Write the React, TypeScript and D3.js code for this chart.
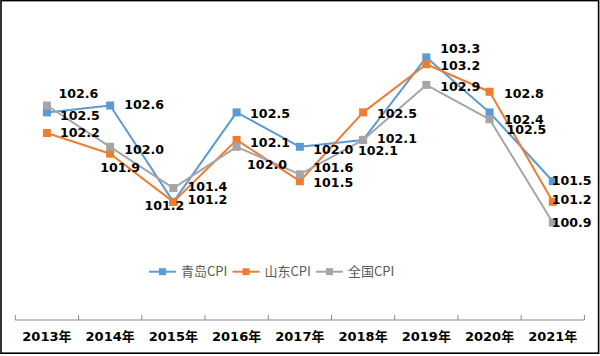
import React from "react";
import * as d3 from "d3";

const years = ["2013年", "2014年", "2015年", "2016年", "2017年", "2018年", "2019年", "2020年", "2021年"];
const seriesNames = ["青岛CPI", "山东CPI", "全国CPI"];
const qingdao = [102.5, 102.6, 101.2, 102.5, 102.0, 102.1, 103.3, 102.5, 101.5];
const shandong = [102.2, 101.9, 101.2, 102.1, 101.5, 102.5, 103.2, 102.8, 101.2];
const national = [102.6, 102.0, 101.4, 102.0, 101.6, 102.1, 102.9, 102.4, 100.9];

// label placement offsets (layout only): [dx of text left edge, dy of text middle]
const qingdaoLabelPos = [[13, 3], [14, -1], [14, -2], [13.5, 1], [13.5, 3], [14, -1.5], [14, -9], [17, 17], [-1, -1]];
const shandongLabelPos = [[13, -0.5], [-10, 13.5], [-29, 4], [13.5, 3], [13.5, 1.5], [14, 1], [14, 1.5], [14.5, 1.5], [-1, -2]];
const nationalLabelPos = [[11.5, -12.5], [14, 2.5], [14, -1.5], [10.5, 17.5], [13.5, -6.5], [-5, 11], [14, 2], [14.5, 0], [-1, -0.5]];

const colors = ["#5B9BD5", "#ED7D31", "#A5A5A5"];

export default function App() {
  const W = 600, H = 356;
  const x = d3.scaleBand<string>().domain(years).range([15.3, 584.4]).padding(0);
  const y = d3.scaleLinear().domain([99.5, 103.5]).range([318.8, 43.6]);
  const axisY = 320;
  const cx = (i: number) => (x(years[i]) as number) + x.bandwidth() / 2;

  const data = [qingdao, shandong, national];
  const labelPos = [qingdaoLabelPos, shandongLabelPos, nationalLabelPos];
  const line = d3.line<number>().x((_, i) => cx(i)).y((v) => y(v));

  const ticks = [...years.map((yr) => x(yr) as number), 584.4];
  const labelFont = "'DejaVu Sans', 'Noto Sans CJK SC', sans-serif";

  return (
    <svg width={W} height={H} style={{ position: "absolute", left: 0, top: 0, background: "#fff" }}>
      <rect x={0} y={0} width={W} height={H} fill="#fff" />
      <rect x={1} y={0.6} width={597.6} height={352.6} fill="none" stroke="#000" strokeWidth={1.6} />
      {/* axis */}
      <line x1={15.3} x2={584.4} y1={axisY} y2={axisY} stroke="#898989" strokeWidth={1} />
      {ticks.map((t, i) => (
        <line key={i} x1={t} x2={t} y1={axisY - 5} y2={axisY} stroke="#898989" strokeWidth={1} />
      ))}
      {years.map((yr, i) => (
        <text key={yr} x={cx(i)} y={340.5} textAnchor="middle" fontFamily={labelFont} fontWeight="bold" fontSize={13} fill="#000">
          {yr}
        </text>
      ))}
      {/* series */}
      {data.map((vals, s) => (
        <g key={s}>
          <path d={line(vals) || ""} fill="none" stroke={colors[s]} strokeWidth={2} strokeLinejoin="round" />
          {vals.map((v, i) => (
            <rect key={i} x={cx(i) - 4} y={y(v) - 4} width={8} height={8} fill={colors[s]} />
          ))}
        </g>
      ))}
      {/* data labels */}
      {data.map((vals, s) =>
        vals.map((v, i) => (
          <text
            key={`${s}-${i}`}
            x={cx(i) + labelPos[s][i][0]}
            y={y(v) + labelPos[s][i][1]}
            dy="0.36em"
            fontFamily={labelFont}
            fontWeight="bold"
            fontSize={12.6}
            fill="#000"
          >
            {v.toFixed(1)}
          </text>
        ))
      )}
      {/* legend */}
      {seriesNames.map((name, s) => {
        const x0 = 149 + s * 83.5;
        const ly = 271.7;
        return (
          <g key={name}>
            <line x1={x0} x2={x0 + 27} y1={ly} y2={ly} stroke={colors[s]} strokeWidth={2} />
            <rect x={x0 + 13.5 - 3.5} y={ly - 3.5} width={7} height={7} fill={colors[s]} />
            <text x={x0 + 32} y={ly} dy="0.36em" fontFamily="'Noto Sans CJK SC', 'Noto Sans', sans-serif" fontSize={13} fill="#595959">
              {name}
            </text>
          </g>
        );
      })}
    </svg>
  );
}
